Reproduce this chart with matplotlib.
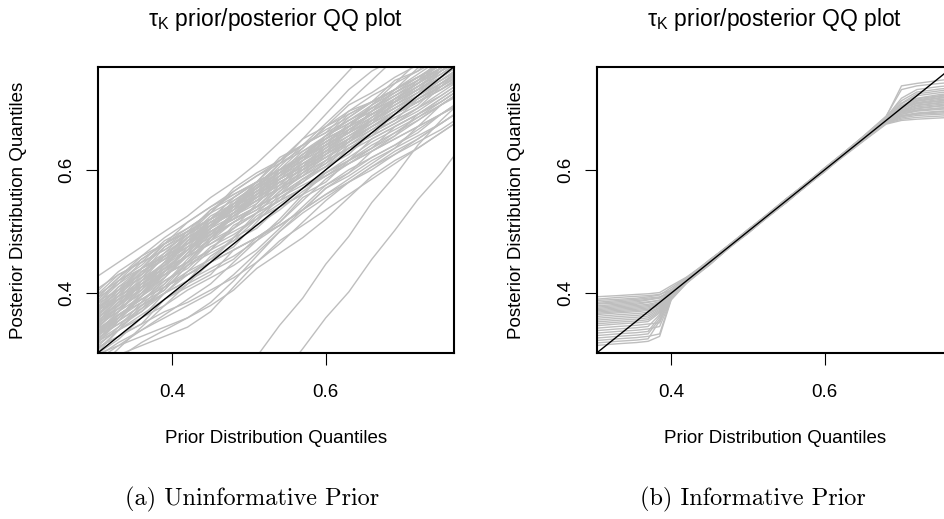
import matplotlib
matplotlib.use("Agg")
import matplotlib.pyplot as plt

plt.rcParams["font.family"] = ["Liberation Sans", "DejaVu Sans"]
plt.rcParams["mathtext.fontset"] = "custom"
plt.rcParams["mathtext.rm"] = "Liberation Sans"
plt.rcParams["mathtext.it"] = "Liberation Sans:italic"

# ---- data: (a) uninformative prior, prior quantiles vs posterior quantiles ----
prior_q_a = [0.30, 0.33, 0.36, 0.39, 0.42, 0.45, 0.48, 0.51, 0.54,
             0.57, 0.60, 0.63, 0.66, 0.69, 0.72, 0.75, 0.78]

post_q_a = [
    [0.425, 0.450, 0.475, 0.500, 0.525, 0.555, 0.580, 0.610, 0.645, 0.680, 0.720, 0.760, 0.800, 0.830, 0.860, 0.890, 0.920],
    [0.400, 0.435, 0.460, 0.480, 0.505, 0.530, 0.550, 0.575, 0.610, 0.650, 0.690, 0.730, 0.760, 0.780, 0.800, 0.830, 0.860],
    [0.390, 0.425, 0.460, 0.490, 0.515, 0.540, 0.565, 0.590, 0.615, 0.640, 0.675, 0.710, 0.745, 0.780, 0.810, 0.840, 0.870],
    [0.380, 0.415, 0.450, 0.470, 0.495, 0.530, 0.565, 0.590, 0.610, 0.630, 0.655, 0.680, 0.705, 0.730, 0.755, 0.780, 0.810],
    [0.370, 0.405, 0.440, 0.475, 0.500, 0.520, 0.545, 0.570, 0.605, 0.640, 0.665, 0.685, 0.710, 0.730, 0.750, 0.775, 0.800],
    [0.360, 0.395, 0.420, 0.445, 0.480, 0.520, 0.555, 0.580, 0.600, 0.620, 0.645, 0.670, 0.705, 0.740, 0.775, 0.800, 0.825],
    [0.350, 0.385, 0.425, 0.460, 0.490, 0.510, 0.530, 0.555, 0.590, 0.625, 0.650, 0.670, 0.690, 0.710, 0.735, 0.760, 0.785],
    [0.340, 0.375, 0.400, 0.425, 0.465, 0.505, 0.540, 0.565, 0.585, 0.610, 0.635, 0.660, 0.680, 0.700, 0.720, 0.740, 0.765],
    [0.330, 0.360, 0.395, 0.435, 0.470, 0.500, 0.520, 0.540, 0.575, 0.615, 0.650, 0.685, 0.710, 0.730, 0.750, 0.770, 0.800],
    [0.320, 0.355, 0.380, 0.405, 0.445, 0.485, 0.515, 0.540, 0.560, 0.585, 0.610, 0.635, 0.655, 0.675, 0.695, 0.720, 0.745],
    [0.310, 0.345, 0.385, 0.420, 0.445, 0.470, 0.490, 0.510, 0.535, 0.565, 0.590, 0.610, 0.630, 0.655, 0.680, 0.705, 0.730],
    [0.300, 0.325, 0.360, 0.400, 0.430, 0.450, 0.470, 0.490, 0.515, 0.550, 0.585, 0.610, 0.630, 0.650, 0.670, 0.690, 0.715],
    [0.290, 0.315, 0.340, 0.365, 0.390, 0.415, 0.450, 0.485, 0.510, 0.535, 0.560, 0.585, 0.610, 0.635, 0.655, 0.675, 0.700],
    [0.395, 0.420, 0.445, 0.480, 0.515, 0.540, 0.560, 0.580, 0.600, 0.625, 0.650, 0.670, 0.690, 0.715, 0.740, 0.765, 0.790],
    [0.385, 0.420, 0.455, 0.480, 0.500, 0.520, 0.540, 0.565, 0.590, 0.615, 0.640, 0.660, 0.680, 0.705, 0.730, 0.750, 0.775],
    [0.375, 0.400, 0.425, 0.460, 0.495, 0.520, 0.540, 0.560, 0.585, 0.605, 0.630, 0.655, 0.680, 0.700, 0.720, 0.740, 0.765],
    [0.365, 0.390, 0.410, 0.435, 0.460, 0.495, 0.530, 0.565, 0.590, 0.610, 0.630, 0.650, 0.675, 0.700, 0.725, 0.750, 0.775],
    [0.355, 0.390, 0.430, 0.465, 0.500, 0.535, 0.560, 0.580, 0.600, 0.635, 0.670, 0.695, 0.720, 0.740, 0.760, 0.780, 0.805],
    [0.345, 0.380, 0.415, 0.440, 0.460, 0.480, 0.505, 0.530, 0.565, 0.600, 0.625, 0.645, 0.670, 0.690, 0.710, 0.730, 0.755],
    [0.335, 0.370, 0.405, 0.445, 0.485, 0.510, 0.530, 0.555, 0.580, 0.600, 0.620, 0.645, 0.670, 0.695, 0.715, 0.735, 0.760],
    [0.325, 0.350, 0.375, 0.410, 0.450, 0.490, 0.525, 0.550, 0.570, 0.595, 0.630, 0.665, 0.690, 0.710, 0.730, 0.755, 0.780],
    [0.315, 0.340, 0.365, 0.390, 0.415, 0.450, 0.490, 0.525, 0.550, 0.570, 0.590, 0.615, 0.640, 0.660, 0.680, 0.705, 0.730],
    [0.305, 0.340, 0.375, 0.400, 0.420, 0.440, 0.460, 0.485, 0.520, 0.560, 0.600, 0.635, 0.660, 0.680, 0.700, 0.720, 0.745],
    [0.405, 0.430, 0.450, 0.470, 0.495, 0.520, 0.555, 0.580, 0.600, 0.620, 0.645, 0.665, 0.685, 0.710, 0.730, 0.750, 0.775],
    [0.360, 0.400, 0.435, 0.460, 0.480, 0.505, 0.540, 0.575, 0.600, 0.620, 0.640, 0.665, 0.690, 0.710, 0.735, 0.760, 0.785],
    [0.340, 0.365, 0.390, 0.415, 0.450, 0.490, 0.525, 0.560, 0.595, 0.620, 0.645, 0.670, 0.690, 0.710, 0.730, 0.750, 0.775],
    [0.320, 0.360, 0.400, 0.435, 0.460, 0.480, 0.500, 0.520, 0.545, 0.570, 0.595, 0.620, 0.645, 0.665, 0.685, 0.705, 0.730],
    [0.370, 0.395, 0.415, 0.440, 0.470, 0.505, 0.545, 0.580, 0.615, 0.640, 0.660, 0.680, 0.700, 0.725, 0.750, 0.770, 0.795],
    [0.350, 0.375, 0.400, 0.430, 0.465, 0.500, 0.520, 0.540, 0.560, 0.580, 0.605, 0.630, 0.650, 0.670, 0.690, 0.715, 0.740],
    [0.330, 0.355, 0.380, 0.415, 0.455, 0.490, 0.515, 0.535, 0.555, 0.580, 0.615, 0.650, 0.675, 0.695, 0.715, 0.740, 0.765],
    [0.295, 0.320, 0.340, 0.360, 0.380, 0.400, 0.430, 0.465, 0.500, 0.530, 0.555, 0.580, 0.605, 0.630, 0.650, 0.675, 0.700],
    [0.310, 0.330, 0.350, 0.370, 0.385, 0.405, 0.425, 0.450, 0.480, 0.515, 0.550, 0.580, 0.605, 0.625, 0.645, 0.665, 0.690],
    [0.380, 0.405, 0.430, 0.455, 0.480, 0.510, 0.535, 0.555, 0.575, 0.595, 0.620, 0.645, 0.670, 0.690, 0.710, 0.730, 0.755],
    [0.390, 0.415, 0.440, 0.465, 0.490, 0.515, 0.540, 0.570, 0.595, 0.620, 0.640, 0.660, 0.685, 0.715, 0.740, 0.765, 0.790],
    [0.365, 0.390, 0.415, 0.450, 0.485, 0.515, 0.540, 0.560, 0.580, 0.600, 0.620, 0.640, 0.665, 0.690, 0.710, 0.735, 0.760],
    [0.350, 0.385, 0.420, 0.450, 0.475, 0.495, 0.515, 0.540, 0.570, 0.605, 0.640, 0.675, 0.700, 0.720, 0.740, 0.765, 0.790],
    [0.335, 0.365, 0.390, 0.410, 0.430, 0.455, 0.490, 0.530, 0.565, 0.590, 0.615, 0.635, 0.655, 0.675, 0.700, 0.725, 0.750],
    [0.375, 0.410, 0.440, 0.460, 0.480, 0.500, 0.525, 0.555, 0.590, 0.625, 0.655, 0.680, 0.700, 0.720, 0.745, 0.770, 0.795],
    [0.345, 0.370, 0.395, 0.425, 0.460, 0.495, 0.530, 0.560, 0.585, 0.605, 0.625, 0.650, 0.680, 0.705, 0.725, 0.745, 0.770],
    [0.320, 0.345, 0.370, 0.400, 0.435, 0.470, 0.505, 0.530, 0.550, 0.570, 0.590, 0.610, 0.635, 0.660, 0.685, 0.710, 0.735],
    [0.330, 0.365, 0.390, 0.410, 0.430, 0.450, 0.470, 0.490, 0.510, 0.535, 0.560, 0.580, 0.600, 0.625, 0.650, 0.675, 0.700],
    [0.390, 0.425, 0.455, 0.480, 0.500, 0.520, 0.545, 0.570, 0.595, 0.620, 0.645, 0.670, 0.700, 0.725, 0.745, 0.765, 0.790],
    [0.360, 0.380, 0.405, 0.435, 0.470, 0.505, 0.535, 0.560, 0.580, 0.600, 0.625, 0.650, 0.670, 0.695, 0.720, 0.745, 0.770],
    [0.275, 0.310, 0.345, 0.380, 0.405, 0.425, 0.445, 0.470, 0.505, 0.540, 0.575, 0.600, 0.620, 0.640, 0.660, 0.690, 0.715],
    [0.300, 0.315, 0.330, 0.345, 0.360, 0.385, 0.420, 0.460, 0.500, 0.535, 0.570, 0.595, 0.620, 0.640, 0.665, 0.690, 0.710],
    [0.285, 0.300, 0.315, 0.330, 0.345, 0.370, 0.410, 0.450, 0.485, 0.510, 0.535, 0.560, 0.585, 0.610, 0.635, 0.660, 0.685],
    [0.270, 0.295, 0.320, 0.340, 0.360, 0.380, 0.405, 0.440, 0.465, 0.490, 0.520, 0.555, 0.590, 0.615, 0.635, 0.660, 0.685],
    [0.370, 0.410, 0.430, 0.475, 0.495, 0.535, 0.555, 0.580, 0.620, 0.640, 0.660, 0.695, 0.710, 0.745, 0.760, 0.795, 0.815],
    [0.355, 0.375, 0.415, 0.435, 0.475, 0.495, 0.530, 0.550, 0.585, 0.605, 0.640, 0.660, 0.695, 0.715, 0.740, 0.760, 0.795],
    [0.340, 0.380, 0.420, 0.440, 0.485, 0.520, 0.540, 0.575, 0.595, 0.630, 0.650, 0.670, 0.705, 0.725, 0.745, 0.780, 0.800],
    [0.325, 0.365, 0.385, 0.425, 0.465, 0.485, 0.505, 0.545, 0.585, 0.605, 0.625, 0.645, 0.680, 0.700, 0.720, 0.745, 0.765],
    [0.315, 0.355, 0.395, 0.430, 0.450, 0.470, 0.510, 0.530, 0.550, 0.585, 0.605, 0.625, 0.660, 0.680, 0.700, 0.735, 0.755],
    [0.385, 0.405, 0.440, 0.460, 0.480, 0.515, 0.535, 0.570, 0.610, 0.635, 0.670, 0.690, 0.710, 0.730, 0.765, 0.785, 0.810],
    [0.360, 0.380, 0.420, 0.460, 0.480, 0.500, 0.520, 0.560, 0.600, 0.620, 0.640, 0.660, 0.680, 0.715, 0.735, 0.755, 0.780],
    [0.335, 0.355, 0.395, 0.420, 0.440, 0.475, 0.495, 0.520, 0.560, 0.585, 0.605, 0.640, 0.660, 0.680, 0.715, 0.735, 0.760],
    [0.300, 0.340, 0.360, 0.380, 0.415, 0.435, 0.455, 0.490, 0.510, 0.535, 0.570, 0.590, 0.615, 0.635, 0.670, 0.690, 0.710],
    [0.395, 0.430, 0.450, 0.485, 0.505, 0.530, 0.570, 0.595, 0.615, 0.650, 0.670, 0.705, 0.725, 0.750, 0.770, 0.790, 0.810],
    [0.350, 0.390, 0.410, 0.430, 0.450, 0.490, 0.515, 0.535, 0.570, 0.590, 0.610, 0.645, 0.665, 0.685, 0.705, 0.740, 0.760],
    [0.375, 0.395, 0.435, 0.455, 0.490, 0.510, 0.550, 0.570, 0.590, 0.615, 0.655, 0.675, 0.695, 0.720, 0.740, 0.775, 0.795],
    [0.320, 0.340, 0.380, 0.400, 0.420, 0.460, 0.485, 0.505, 0.540, 0.560, 0.580, 0.615, 0.635, 0.655, 0.690, 0.710, 0.735],
    [0.345, 0.385, 0.405, 0.445, 0.470, 0.510, 0.545, 0.565, 0.600, 0.620, 0.655, 0.675, 0.695, 0.730, 0.750, 0.770, 0.805],
    [0.365, 0.405, 0.425, 0.445, 0.485, 0.505, 0.525, 0.545, 0.580, 0.600, 0.635, 0.655, 0.675, 0.710, 0.730, 0.750, 0.785],
    [0.330, 0.370, 0.410, 0.430, 0.450, 0.485, 0.525, 0.550, 0.570, 0.590, 0.625, 0.665, 0.690, 0.710, 0.730, 0.765, 0.785],
    [0.310, 0.330, 0.350, 0.390, 0.410, 0.430, 0.470, 0.490, 0.515, 0.555, 0.575, 0.595, 0.630, 0.650, 0.670, 0.705, 0.725],
    [0.380, 0.420, 0.440, 0.460, 0.495, 0.515, 0.535, 0.575, 0.595, 0.615, 0.635, 0.670, 0.690, 0.710, 0.745, 0.765, 0.785],
    [0.355, 0.395, 0.435, 0.455, 0.475, 0.510, 0.530, 0.550, 0.570, 0.605, 0.630, 0.650, 0.670, 0.690, 0.715, 0.735, 0.770],
    [0.330, 0.350, 0.370, 0.410, 0.435, 0.455, 0.475, 0.515, 0.555, 0.575, 0.595, 0.615, 0.650, 0.670, 0.690, 0.715, 0.740],
    [0.370, 0.390, 0.410, 0.450, 0.490, 0.525, 0.545, 0.565, 0.585, 0.620, 0.640, 0.660, 0.695, 0.715, 0.735, 0.760, 0.780],
    [0.340, 0.360, 0.400, 0.440, 0.460, 0.500, 0.520, 0.540, 0.560, 0.595, 0.615, 0.635, 0.655, 0.690, 0.710, 0.730, 0.750],
    [0.360, 0.400, 0.440, 0.480, 0.500, 0.520, 0.540, 0.580, 0.600, 0.620, 0.655, 0.690, 0.710, 0.730, 0.750, 0.770, 0.795],
    [0.320, 0.360, 0.385, 0.405, 0.445, 0.465, 0.485, 0.520, 0.540, 0.560, 0.595, 0.615, 0.635, 0.670, 0.690, 0.710, 0.735],
    [0.350, 0.370, 0.410, 0.450, 0.470, 0.490, 0.530, 0.555, 0.575, 0.610, 0.630, 0.650, 0.685, 0.705, 0.725, 0.760, 0.780],
    # the two stray runs far below the diagonal
    [0.050, 0.090, 0.120, 0.150, 0.180, 0.210, 0.250, 0.297, 0.348, 0.392, 0.447, 0.492, 0.547, 0.590, 0.640, 0.680, 0.715],
    [-0.120, -0.070, -0.020, 0.025, 0.072, 0.120, 0.167, 0.215, 0.262, 0.310, 0.360, 0.402, 0.455, 0.502, 0.552, 0.594, 0.644],
]

# ---- data: (b) informative prior ----
prior_q_b = [0.30, 0.33, 0.355, 0.37, 0.385, 0.40, 0.42, 0.45, 0.50,
             0.55, 0.60, 0.65, 0.68, 0.70, 0.72, 0.75, 0.78]

post_q_b = [
    [0.394, 0.396, 0.398, 0.399, 0.401, 0.412, 0.426, 0.453, 0.502, 0.552, 0.601, 0.652, 0.684, 0.700, 0.708, 0.712, 0.715],
    [0.390, 0.393, 0.395, 0.396, 0.398, 0.405, 0.423, 0.451, 0.500, 0.549, 0.602, 0.654, 0.686, 0.736, 0.740, 0.745, 0.749],
    [0.388, 0.390, 0.392, 0.394, 0.397, 0.409, 0.425, 0.449, 0.498, 0.547, 0.599, 0.649, 0.679, 0.690, 0.696, 0.700, 0.702],
    [0.385, 0.388, 0.390, 0.392, 0.394, 0.403, 0.421, 0.447, 0.502, 0.551, 0.598, 0.652, 0.682, 0.704, 0.716, 0.722, 0.725],
    [0.383, 0.386, 0.388, 0.390, 0.393, 0.401, 0.419, 0.446, 0.500, 0.548, 0.601, 0.647, 0.676, 0.684, 0.688, 0.690, 0.692],
    [0.382, 0.384, 0.386, 0.389, 0.392, 0.406, 0.424, 0.452, 0.497, 0.552, 0.603, 0.653, 0.685, 0.716, 0.730, 0.735, 0.738],
    [0.379, 0.382, 0.384, 0.386, 0.388, 0.398, 0.418, 0.450, 0.501, 0.550, 0.599, 0.650, 0.680, 0.695, 0.702, 0.706, 0.708],
    [0.377, 0.380, 0.382, 0.385, 0.389, 0.402, 0.420, 0.448, 0.503, 0.548, 0.597, 0.652, 0.683, 0.701, 0.711, 0.716, 0.719],
    [0.375, 0.378, 0.380, 0.382, 0.386, 0.400, 0.422, 0.454, 0.499, 0.551, 0.602, 0.648, 0.677, 0.688, 0.692, 0.695, 0.697],
    [0.373, 0.376, 0.378, 0.380, 0.384, 0.399, 0.419, 0.450, 0.498, 0.553, 0.600, 0.653, 0.684, 0.708, 0.723, 0.728, 0.731],
    [0.371, 0.374, 0.376, 0.378, 0.383, 0.404, 0.425, 0.452, 0.502, 0.552, 0.601, 0.650, 0.679, 0.693, 0.699, 0.703, 0.705],
    [0.369, 0.372, 0.374, 0.376, 0.381, 0.397, 0.417, 0.446, 0.500, 0.547, 0.598, 0.646, 0.674, 0.680, 0.682, 0.684, 0.686],
    [0.367, 0.370, 0.372, 0.374, 0.380, 0.401, 0.421, 0.451, 0.499, 0.550, 0.603, 0.652, 0.682, 0.702, 0.713, 0.719, 0.722],
    [0.365, 0.368, 0.370, 0.372, 0.379, 0.400, 0.420, 0.453, 0.503, 0.549, 0.600, 0.650, 0.681, 0.697, 0.705, 0.709, 0.711],
    [0.362, 0.365, 0.367, 0.369, 0.377, 0.398, 0.418, 0.448, 0.497, 0.548, 0.601, 0.654, 0.687, 0.730, 0.736, 0.740, 0.743],
    [0.359, 0.362, 0.364, 0.366, 0.376, 0.403, 0.424, 0.454, 0.501, 0.553, 0.602, 0.649, 0.678, 0.690, 0.695, 0.698, 0.700],
    [0.356, 0.359, 0.361, 0.363, 0.374, 0.399, 0.420, 0.449, 0.500, 0.551, 0.599, 0.651, 0.683, 0.707, 0.720, 0.725, 0.728],
    [0.353, 0.356, 0.358, 0.360, 0.372, 0.396, 0.419, 0.447, 0.502, 0.550, 0.597, 0.650, 0.680, 0.699, 0.707, 0.711, 0.713],
    [0.350, 0.353, 0.355, 0.357, 0.370, 0.401, 0.422, 0.452, 0.498, 0.547, 0.600, 0.647, 0.675, 0.682, 0.685, 0.687, 0.689],
    [0.347, 0.350, 0.352, 0.354, 0.368, 0.397, 0.418, 0.450, 0.499, 0.552, 0.603, 0.653, 0.685, 0.712, 0.726, 0.731, 0.734],
    [0.343, 0.346, 0.348, 0.350, 0.352, 0.392, 0.416, 0.446, 0.501, 0.549, 0.600, 0.650, 0.679, 0.694, 0.700, 0.704, 0.706],
    [0.339, 0.342, 0.344, 0.346, 0.365, 0.399, 0.421, 0.453, 0.503, 0.553, 0.601, 0.652, 0.682, 0.700, 0.709, 0.714, 0.716],
    [0.335, 0.338, 0.340, 0.342, 0.346, 0.390, 0.417, 0.448, 0.500, 0.548, 0.598, 0.649, 0.677, 0.687, 0.691, 0.694, 0.696],
    [0.331, 0.334, 0.336, 0.338, 0.362, 0.398, 0.420, 0.451, 0.497, 0.551, 0.599, 0.652, 0.683, 0.703, 0.715, 0.720, 0.723],
    [0.327, 0.330, 0.332, 0.334, 0.358, 0.396, 0.419, 0.453, 0.500, 0.550, 0.602, 0.650, 0.679, 0.692, 0.697, 0.700, 0.702],
    [0.323, 0.326, 0.328, 0.330, 0.334, 0.391, 0.418, 0.450, 0.502, 0.553, 0.600, 0.648, 0.680, 0.696, 0.704, 0.708, 0.710],
    [0.319, 0.322, 0.324, 0.326, 0.355, 0.395, 0.420, 0.447, 0.501, 0.547, 0.601, 0.647, 0.676, 0.686, 0.690, 0.692, 0.694],
    [0.315, 0.318, 0.320, 0.322, 0.330, 0.389, 0.416, 0.450, 0.499, 0.550, 0.597, 0.653, 0.682, 0.701, 0.712, 0.717, 0.720],
]

ticks = [0.4, 0.6]
tick_labels = ["0.4", "0.6"]
panel_titles = ["τ$_\\mathrm{K}$ prior/posterior QQ plot"] * 2
captions = ["(a) Uninformative Prior", "(b) Informative Prior"]

LINE_GREY = "#BEBEBE"
LIMS = (0.303, 0.767)

fig = plt.figure(figsize=(9.45, 5.19), dpi=100)

# axes boxes placed by pixel measurement of the original; right one runs off the edge
boxes = [[0.1034, 0.3198, 0.377, 0.5516], [0.6314, 0.3198, 0.377, 0.5516]]
panels = [(prior_q_a, post_q_a), (prior_q_b, post_q_b)]
centers = [0.292, 0.820]
ylab_x = [0.0194, 0.5468]

for i, (box, (xq, yqs)) in enumerate(zip(boxes, panels)):
    ax = fig.add_axes(box)
    for yq in yqs:
        ax.plot(xq, yq, color=LINE_GREY, lw=1.0, solid_joinstyle="round")
    ax.axline((0, 0), slope=1, color="black", lw=1.0)

    ax.set_xlim(*LIMS)
    ax.set_ylim(*LIMS)
    ax.set_xticks(ticks)
    ax.set_xticklabels(tick_labels, fontsize=13.5)
    ax.set_yticks(ticks)
    ax.set_yticklabels(tick_labels, fontsize=13.5, rotation=90, va="center")
    ax.tick_params(axis="x", direction="out", length=8.6, width=0.8, pad=13.5)
    ax.tick_params(axis="y", direction="out", length=8.6, width=0.8, pad=7.5)
    for sp in ax.spines.values():
        sp.set_linewidth(1.5)

    fig.text(centers[i], 0.950, panel_titles[i], ha="center", va="baseline", fontsize=16.5)
    fig.text(centers[i], 0.1464, "Prior Distribution Quantiles",
             ha="center", va="baseline", fontsize=13.5)
    fig.text(ylab_x[i], 0.5955, "Posterior Distribution Quantiles",
             ha="center", va="center", rotation=90, fontsize=13.5)

fig.text(0.267, 0.027, captions[0], ha="center", va="baseline",
         fontsize=17.5, family="cmr10")
fig.text(0.797, 0.027, captions[1], ha="center", va="baseline",
         fontsize=17.5, family="cmr10")

fig.savefig("out.png", dpi=100)
